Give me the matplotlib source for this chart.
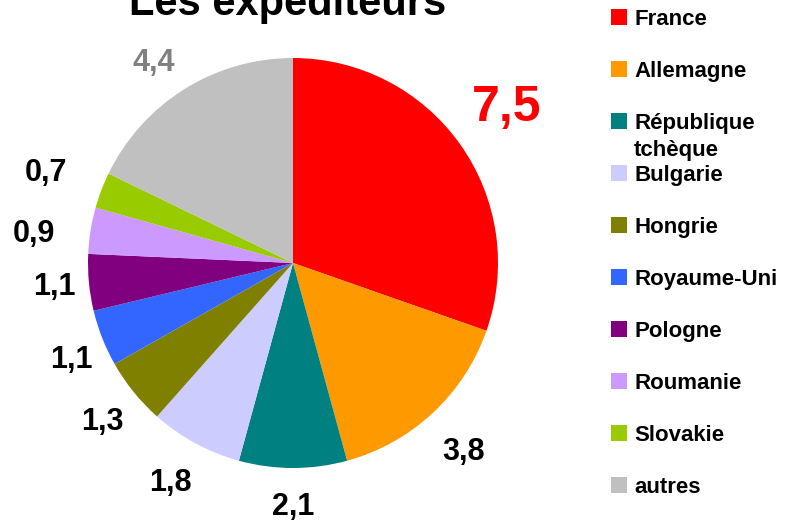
import matplotlib.pyplot as plt
import numpy as np
from matplotlib.patches import Rectangle


pays = [
    "France",
    "Allemagne",
    "République\ntchèque",
    "Bulgarie",
    "Hongrie",
    "Royaume-Uni",
    "Pologne",
    "Roumanie",
    "Slovakie",
    "autres",
]
valeurs = [7.5, 3.8, 2.1, 1.8, 1.3, 1.1, 1.1, 0.9, 0.7, 4.4]
etiquettes = ["7,5", "3,8", "2,1", "1,8", "1,3", "1,1", "1,1", "0,9", "0,7", "4,4"]

couleurs = [
    "#FF0000", "#FF9900", "#008080", "#CCCCFF", "#808000",
    "#3366FF", "#800080", "#CC99FF", "#99CC00", "#C0C0C0",
]
# where each value label sits: distance from centre (radii), angle nudge (deg)
distances = [1.29, 1.24, 1.19, 1.23, 1.21, 1.18, 1.17, 1.27, 1.28, 1.19]
decalages = [0.6, -1.0, 0.0, -0.6, 0.9, 2.1, 0.3, 2.8, 0.8, 2.7]

plt.rcParams["font.family"] = ["Liberation Sans", "DejaVu Sans"]

W, H = 785, 523
fig = plt.figure(figsize=(W / 100, H / 100), dpi=100)

cx, cy, r = 293, 263, 205
ax = fig.add_axes([(cx - r) / W, (H - cy - r) / H, 2 * r / W, 2 * r / H])

wedges, _ = ax.pie(
    valeurs,
    colors=couleurs,
    startangle=90,
    counterclock=False,
    wedgeprops={"linewidth": 0},
)
ax.set_xlim(-1, 1)
ax.set_ylim(-1, 1)

for wedge, texte, dist, dec in zip(wedges, etiquettes, distances, decalages):
    angle = np.deg2rad((wedge.theta1 + wedge.theta2) / 2 + dec)
    couleur, taille = "black", 22
    if texte == "7,5":
        couleur, taille = "#FF0000", 36
    elif texte == "4,4":
        couleur = "#808080"
    ax.text(
        dist * np.cos(angle),
        dist * np.sin(angle),
        texte,
        ha="center",
        va="center",
        fontsize=taille,
        fontweight="bold",
        color=couleur,
        clip_on=False,
    )

# title, partly cut off at the top like the original
fig.text(288 / W, 1 - 15 / H, "Les expéditeurs", ha="center", va="baseline",
         fontsize=30, fontweight="bold")

# legend drawn by hand so the wrapped label overflows like the original
for i, (nom, couleur) in enumerate(zip(pays, couleurs)):
    y = 17 + 52 * i
    fig.patches.append(Rectangle(
        (611 / W, 1 - (y + 8) / H), 16 / W, 16 / H,
        transform=fig.transFigure, facecolor=couleur, edgecolor="none",
    ))
    for k, ligne in enumerate(nom.split("\n")):
        fig.text(634 / W, 1 - (y + 8 + 27 * k) / H, ligne, ha="left",
                 va="baseline", fontsize=16, fontweight="bold")

fig.savefig("out.png", dpi=100)
plt.close(fig)
